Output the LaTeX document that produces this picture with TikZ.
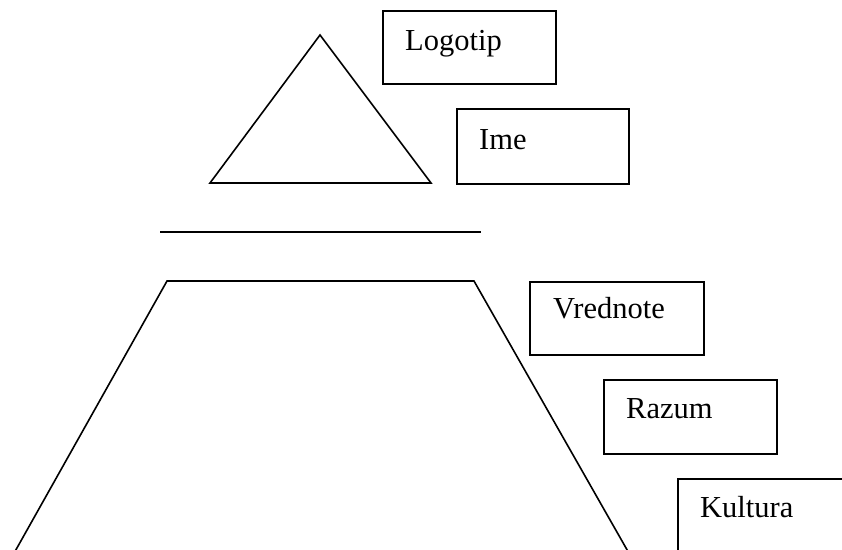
\documentclass[tikz,border=0pt]{standalone}
\usepackage{fontspec}
\setmainfont{Liberation Serif}
\begin{document}
\begin{tikzpicture}[x=1pt,y=-1pt,
  shp/.style={draw=black,line width=1.6pt,line join=miter},
  box/.style={draw=black,line width=1.6pt,rectangle,inner sep=0pt,anchor=north west},
  lbl/.style={anchor=base west,inner sep=0pt,font=\fontsize{30.5}{36}\selectfont}]
\useasboundingbox (0,0) rectangle (842,549);
\clip (0,0) rectangle (842,549);
% triangle
\coordinate (ta) at (320,35);
\coordinate (tl) at (210,183);
\coordinate (tr) at (431,183);
\draw[shp] (ta) -- (tl) -- (tr) -- cycle;
% line
\coordinate (la) at (160,232);
\coordinate (lb) at (481,232);
\draw[shp] (la) -- (lb);
% trapezoid
\coordinate (pbl) at (13,555);
\coordinate (ptl) at (167,281);
\coordinate (ptr) at (474,281);
\coordinate (pbr) at (630,555);
\draw[shp] (pbl) -- (ptl) -- (ptr) -- (pbr);
% boxes
\node[box,minimum width=173pt,minimum height=73pt] (logo) at (382,10) {};
\node[lbl] (logot) at (405,50) {Logotip};
\node[box,minimum width=172pt,minimum height=75pt] (ime) at (456,108) {};
\node[lbl] (imet) at (479,149) {Ime};
\node[box,minimum width=174pt,minimum height=73pt] (vred) at (529,281) {};
\node[lbl] (vredt) at (553,318) {Vrednote};
\node[box,minimum width=173pt,minimum height=74pt] (raz) at (603,379) {};
\node[lbl] (razt) at (626,418) {Razum};
\node[box,minimum width=200pt,minimum height=100pt] (kul) at (677,478) {};
\node[lbl] (kult) at (700,517) {Kultura};
\end{tikzpicture}
\end{document}
